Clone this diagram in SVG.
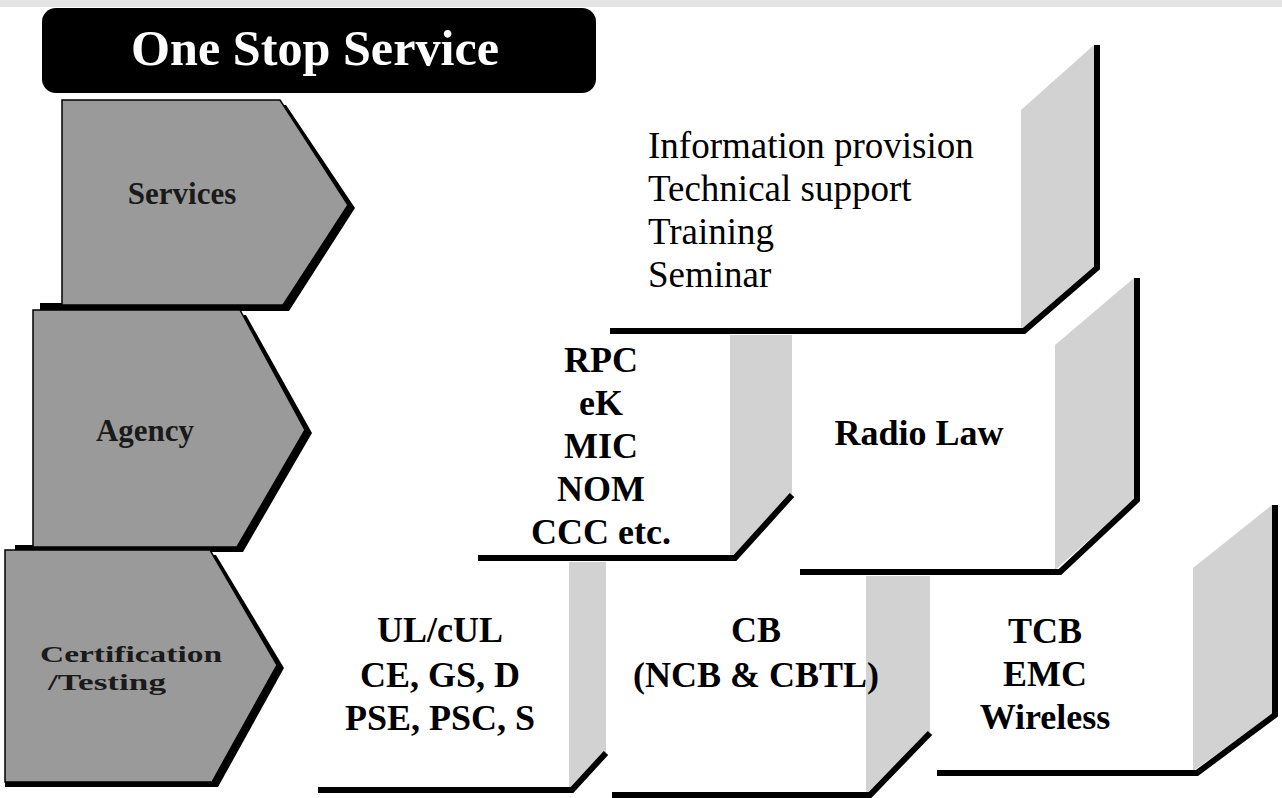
<svg xmlns="http://www.w3.org/2000/svg" width="1282" height="798" viewBox="0 0 1282 798">
<style>
.arrow{fill:#9a9a9a;stroke:#000;stroke-width:1.5}
.shadow{fill:#000}
.side{fill:#d2d2d2}
.edge{fill:none;stroke:#000;stroke-width:6;stroke-linejoin:miter}
.front{fill:#fff}
.lbl{font-family:"Liberation Serif","Times New Roman",serif;font-weight:bold;fill:#1a1a1a}
.reg{font-family:"Liberation Serif","Times New Roman",serif;font-size:37px;fill:#000}
.bold{font-family:"Liberation Serif","Times New Roman",serif;font-weight:bold;font-size:36px;fill:#000;text-anchor:middle}
</style>
<rect x="0" y="0" width="1282" height="798" fill="#fff"/>
<rect x="0" y="0" width="1282" height="7" fill="#e4e4e4"/>

<g id="title">
<rect x="42" y="8" width="554" height="85" rx="14" fill="#000"/>
<text x="315" y="65" font-family="'Liberation Serif','Times New Roman',serif" font-weight="bold" font-size="50" fill="#fff" text-anchor="middle" textLength="368" lengthAdjust="spacingAndGlyphs">One Stop Service</text>
</g>

<g id="arrow-services">
<polygon class="shadow" points="68,105 286,105 355,208 289,311 40,311 40,303 68,303"/>
<polygon class="arrow" points="62,100 280,100 348,205 283,305 62,305"/>
<text class="lbl" x="182" y="204" font-size="31" text-anchor="middle">Services</text>
</g>

<g id="arrow-agency">
<polygon class="shadow" points="39,315 246,315 312,433 243,552 15,552 15,545 39,545"/>
<polygon class="arrow" points="33,310 240,310 305,430 237,547 33,547"/>
<text class="lbl" x="145" y="441" font-size="31" text-anchor="middle">Agency</text>
</g>

<g id="arrow-certification">
<polygon class="shadow" points="11,555 216,555 284,668 218,787 5,787"/>
<polygon class="arrow" points="5,550 210,550 277,665 212,782 5,782"/>
<text class="lbl" x="40" y="662" font-size="23" textLength="182" lengthAdjust="spacingAndGlyphs">Certification</text>
<text class="lbl" x="48" y="690" font-size="23" textLength="118" lengthAdjust="spacingAndGlyphs">/Testing</text>
</g>

<g id="box-services">
<rect class="front" x="610" y="45" width="411" height="286"/>
<polygon class="side" points="1021,110 1094,45 1094,268 1021,331"/>
<polyline class="edge" points="1097,45 1097,268 1024,331 610,331"/>
<text class="reg" x="648" y="158">Information provision</text>
<text class="reg" x="648" y="201">Technical support</text>
<text class="reg" x="648" y="244">Training</text>
<text class="reg" x="648" y="287">Seminar</text>
</g>

<g id="box-agency-list">
<polygon class="side" points="730,335 792,335 792,495 733,556 730,556"/>
<polyline class="edge" points="792,495 735,558 478,558"/>
<text class="bold" x="601" y="372">RPC</text>
<text class="bold" x="601" y="415">eK</text>
<text class="bold" x="601" y="458">MIC</text>
<text class="bold" x="601" y="501">NOM</text>
<text class="bold" x="601" y="544">CCC etc.</text>
</g>

<g id="box-radio-law">
<polygon class="side" points="1055,345 1134,278 1134,500 1055,570"/>
<polyline class="edge" points="1137,278 1137,500 1060,572 800,572"/>
<text class="bold" x="919" y="445">Radio Law</text>
</g>

<g id="box-ul">
<polygon class="side" points="569,562 606,562 606,753 572,788 569,788"/>
<polyline class="edge" points="606,753 572,790 318,790"/>
<text class="bold" x="440" y="642">UL/cUL</text>
<text class="bold" x="440" y="687">CE, GS, D</text>
<text class="bold" x="440" y="730">PSE, PSC, S</text>
</g>

<g id="box-cb">
<polygon class="side" points="866,576 930,576 930,733 870,793 866,793"/>
<polyline class="edge" points="930,733 870,795 612,795"/>
<text class="bold" x="756" y="642">CB</text>
<text class="bold" x="756" y="687">(NCB &amp; CBTL)</text>
</g>

<g id="box-tcb">
<polygon class="side" points="1193,568 1272,505 1272,715 1193,771"/>
<polyline class="edge" points="1275,505 1275,715 1197,773 937,773"/>
<text class="bold" x="1045" y="643">TCB</text>
<text class="bold" x="1045" y="686">EMC</text>
<text class="bold" x="1045" y="729">Wireless</text>
</g>

<g id="connectors"/>
</svg>
